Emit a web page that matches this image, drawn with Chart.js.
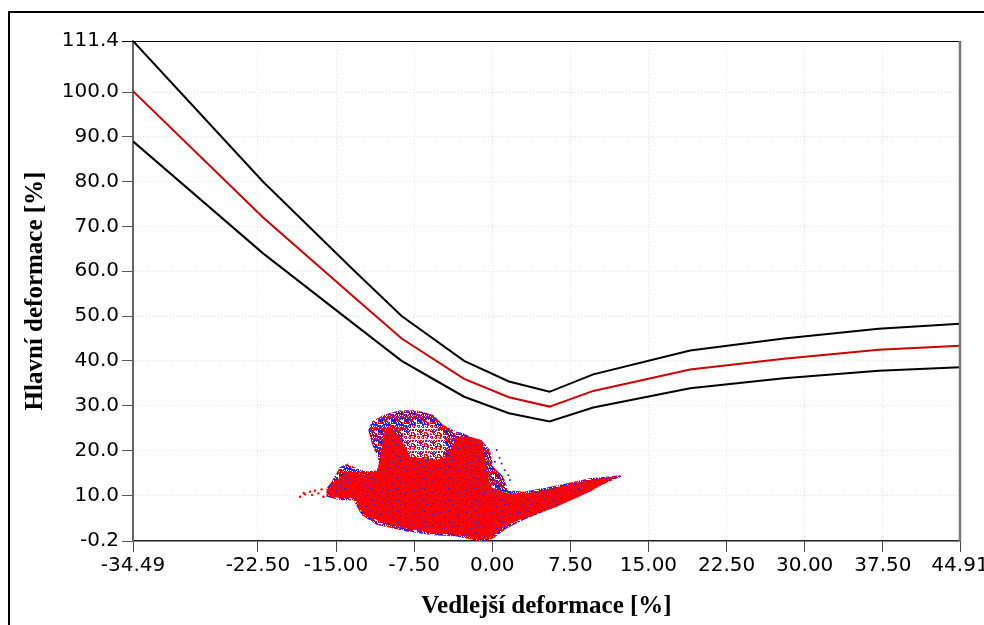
<!DOCTYPE html>
<html>
<head>
<meta charset="utf-8">
<title>Diagram mezní tvařitelnosti</title>
<script src="https://cdn.jsdelivr.net/npm/chart.js@4.4.0/dist/chart.umd.min.js"></script>
<style>
  html, body { margin: 0; padding: 0; background: #fff; overflow: hidden; }
  #wrap { position: relative; width: 984px; height: 625px; }
  #flc { position: absolute; left: 0; top: 0; }
  #frame { position: absolute; left: 8px; top: 11px; width: 1200px; height: 900px;
           border: 2px solid #000; box-sizing: border-box; pointer-events: none; }
</style>
</head>
<body>
<div id="wrap">
  <canvas id="flc" width="984" height="625"></canvas>
  <div id="frame"></div>
</div>
<script>
// ─── Osy ─────────────────────────────────────────────────────
const xTicks = [-34.49, -22.5, -15, -7.5, 0, 7.5, 15, 22.5, 30, 37.5, 44.91];
const yTicks = [-0.2, 10, 20, 30, 40, 50, 60, 70, 80, 90, 100, 111.4];

// ─── Křivka FLC a pásmo kolem ní ─────────────────────────────
const flcX     = [-34.49, -22.0, -13.2, -8.7, -2.7, 1.6, 5.5, 9.7, 19.0, 28.0, 37.1, 44.91];
const flcUpper = [111.4, 80.0, 60.0, 50.0, 40.0, 35.4, 33.1, 37.0, 42.3, 45.0, 47.2, 48.3];
const flcMid   = [100.2, 72.0, 54.1, 45.0, 36.0, 31.9, 29.8, 33.3, 38.1, 40.5, 42.5, 43.4];
const flcLower = [89.0, 64.0, 48.1, 40.0, 32.0, 28.3, 26.5, 29.6, 33.9, 36.1, 37.8, 38.6];

// ─── Měřené body (obrys oblasti) ─────────────────────────────
const cloudOuterX = [-15.9, -15.9, -15.42, -14.62, -13.82, -13.02, -12.06, -11.1, -10.78, -11.58,
  -11.9, -11.58, -10.46, -8.86, -7.26, -5.66, -4.7, -3.42, -2.62, -1.98, -1.02, -0.22, 0.1,
  1.06, 1.54, 2.98, 6.18, 9.38, 12.26, 12.42, 9.38, 6.18, 2.98, 1.38, 0.1, -0.5, -1.5, -3.42,
  -5.66, -8.22, -11.1, -12.54, -13.34, -14.62, -15.9];
const cloudOuterY = [9.7, 11.55, 13.0, 16.4, 17.1, 16.0, 15.3, 15.6, 17.1, 21.6,
  24.6, 26.4, 27.9, 29.0, 29.0, 27.9, 25.7, 24.2, 23.8, 22.7, 22.3, 20.1, 16.4,
  14.2, 11.2, 10.8, 12.2, 13.8, 14.5, 14.2, 11.2, 7.5, 4.5, 2.6, 0.4, -0.1, -0.1, 0.8,
  1.1, 1.9, 3.4, 5.6, 8.9, 8.9, 9.7];

const cloudCoreX = [-15.9, -15.9, -14.94, -13.82, -12.06, -11.04, -10.78, -10.3, -9.82, -8.86,
  -7.9, -6.62, -5.34, -4.38, -3.42, -2.14, -1.02, -0.54, -0.22, 1.38, 2.98, 6.18, 9.38, 11.94,
  9.38, 6.18, 2.98, 1.06, -0.06, -1.5, -3.42, -5.66, -8.22, -10.78, -12.54, -13.18, -14.62, -15.9];
const cloudCoreY = [10.06, 11.18, 13.41, 15.27, 14.53, 15.27, 18.62, 24.57, 25.32, 23.09,
  18.62, 18.25, 17.88, 18.62, 23.09, 23.09, 22.34, 16.39, 11.92, 10.44, 10.29, 11.78, 13.41, 14.31,
  10.81, 7.46, 4.86, 2.98, 0.62, 0.39, 1.14, 1.51, 2.62, 4.11, 6.34, 9.32, 9.32, 10.06];

const cloudHoleX = [-8.54, -7.26, -5.66, -4.7, -4.38, -5.02, -6.62, -7.9, -8.54, -8.54];
const cloudHoleY = [24.2, 26.06, 25.69, 23.83, 20.85, 17.88, 18.25, 18.62, 21.6, 24.2];

const tailX = [-18.46, -17.98, -17.5, -17.02, -16.7, -16.38, -16.22, -17.3, -18.1];
const tailY = [9.69, 10.21, 10.81, 11.03, 10.44, 11.33, 9.69, 10.1, 10.5];

const strayX = [0.26, 0.9, 1.54, 1.7, 0.42, 0.7, 1.2];
const strayY = [17.5, 17.1, 14.5, 13.4, 20.1, 18.4, 15.6];

const zip = (xs, ys) => xs.map((x, i) => ({ x, y: ys[i] }));

// ─── Tečkované výplně (pevná dlaždice, bez náhody) ───────────
const ctx = document.getElementById("flc").getContext("2d");
const BLUE = "#1a1ae6", RED = "#ff0000";

function speckle(w, h, pick) {
  const tile = document.createElement("canvas");
  tile.width = w;
  tile.height = h;
  const g = tile.getContext("2d");
  for (let j = 0; j < h; j++) {
    for (let i = 0; i < w; i++) {
      g.fillStyle = pick((i * 37 + j * 91 + i * j * 17) % 23);
      g.fillRect(i, j, 1, 1);
    }
  }
  return ctx.createPattern(tile, "repeat");
}

const outerFill = speckle(13, 11, k => k < 9 ? BLUE : k < 18 ? RED : "#ffffff");
const holeFill  = speckle(13, 11, k => k < 3 ? BLUE : k < 12 ? RED : "#ffffff");
const coreFill  = speckle(13, 11, k => k === 5 ? BLUE : RED);

// ─── Rámeček grafu nahoře a vpravo ───────────────────────────
const plotFrame = {
  id: "plotFrame",
  afterDraw(chart) {
    const { ctx: c, chartArea: a } = chart;
    c.save();
    c.strokeStyle = "#000";
    c.lineWidth = 1;
    c.beginPath();
    c.moveTo(a.left - 11, a.top + 0.5);
    c.lineTo(a.right, a.top + 0.5);
    c.stroke();
    c.strokeStyle = "#777";
    c.lineWidth = 2.5;
    c.beginPath();
    c.moveTo(a.right, a.top);
    c.lineTo(a.right, a.bottom);
    c.stroke();
    c.restore();
  }
};

const tickFont = { family: "DejaVu Sans", size: 20 };
const titleFont = { family: "Liberation Serif", size: 25, weight: "bold" };

const polygon = (data, fill, order) => ({
  data, showLine: true, fill: "shape", backgroundColor: fill,
  borderWidth: 0, borderColor: "rgba(0,0,0,0)", pointRadius: 0, tension: 0, order,
});
const curve = (data, color, order) => ({
  data, showLine: true, fill: false, borderColor: color, borderWidth: 2,
  pointRadius: 0, tension: 0, order,
});

new Chart(ctx, {
  type: "scatter",
  data: {
    datasets: [
      curve(zip(flcX, flcUpper), "#000000", 0),
      curve(zip(flcX, flcMid), "#cc0000", 0),
      curve(zip(flcX, flcLower), "#000000", 0),
      { data: zip(tailX, tailY), pointRadius: 1.2, pointBorderWidth: 0, backgroundColor: RED, order: 1 },
      { data: zip(strayX, strayY), pointRadius: 1, pointBorderWidth: 0, backgroundColor: BLUE, order: 1 },
      polygon(zip(cloudCoreX, cloudCoreY), coreFill, 2),
      polygon(zip(cloudHoleX, cloudHoleY), holeFill, 3),
      polygon(zip(cloudOuterX, cloudOuterY), outerFill, 4),
    ]
  },
  options: {
    responsive: false,
    animation: false,
    layout: { padding: { left: 0, right: 24, top: 41, bottom: 0 } },
    plugins: { legend: { display: false }, tooltip: { enabled: false } },
    scales: {
      x: {
        type: "linear",
        min: -34.49,
        max: 44.91,
        afterBuildTicks: s => { s.ticks = xTicks.map(v => ({ value: v })); },
        afterFit: s => { s.height = 84; s.paddingLeft = 0; s.paddingRight = 0; },
        ticks: { callback: v => v.toFixed(2), font: tickFont, color: "#000", padding: 2,
                 maxRotation: 0, autoSkip: false },
        grid: { color: "#e4e4e4", lineWidth: 1, tickLength: 11, tickColor: "#444", tickWidth: 1 },
        border: { color: "#222", width: 1.5, dash: [1, 2] },
        title: { display: true, text: "Vedlejší deformace [%]", font: titleFont, color: "#000",
                 padding: { top: 0, bottom: 3 } },
      },
      y: {
        type: "linear",
        min: -0.2,
        max: 111.4,
        afterBuildTicks: s => { s.ticks = yTicks.map(v => ({ value: v })); },
        afterFit: s => { s.width = 133; },
        ticks: { callback: v => v.toFixed(1), font: tickFont, color: "#000", padding: 3, autoSkip: false },
        grid: { color: "#e4e4e4", lineWidth: 1, tickLength: 11, tickColor: "#555", tickWidth: 1 },
        border: { color: "#666", width: 2, dash: [1, 2] },
        title: { display: true, text: "Hlavní deformace [%]", font: titleFont, color: "#000",
                 padding: { top: 21, bottom: 0 } },
      }
    }
  },
  plugins: [plotFrame]
});
</script>
</body>
</html>
